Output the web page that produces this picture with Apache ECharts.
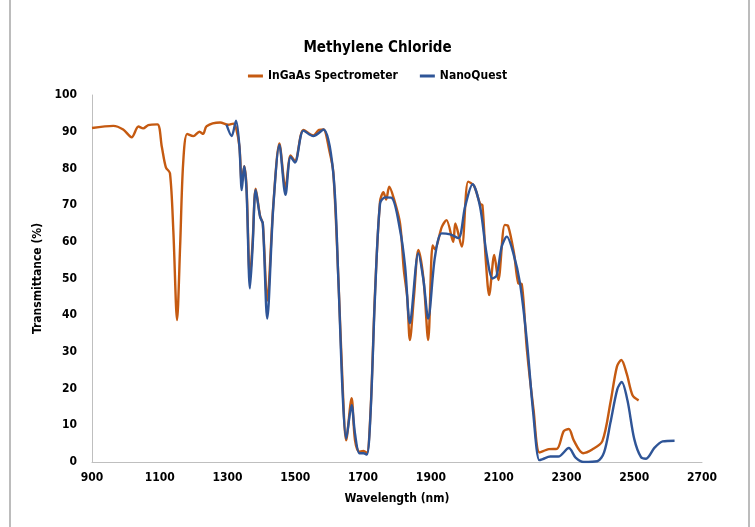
<!DOCTYPE html>
<html><head><meta charset="utf-8">
<script src="https://cdn.jsdelivr.net/npm/echarts@6/dist/echarts.min.js"></script>
<style>html,body{margin:0;padding:0;background:#fff}#c{width:755px;height:527px}</style>
</head><body><div id="c"></div>
<script>
const title = "Methylene Chloride";
const seriesNames = ["InGaAs Spectrometer", "NanoQuest"];
const xTicks = [900, 1100, 1300, 1500, 1700, 1900, 2100, 2300, 2500, 2700];
const yTicks = [0, 10, 20, 30, 40, 50, 60, 70, 80, 90, 100];

const ingaasWl = [900,963,992,1017,1037,1051,1066,1093,1106,1118,1130,1140,1151,1160,1169,1181,1199,1217,1228,1238,1278,1302,1317,1325,1335,1342,1349,1356,1366,1374,1383,1396,1404,1417,1435,1453,1471,1486,1499,1524,1553,1570,1583,1600,1612,1627,1640,1650,1666,1676,1689,1701,1711,1722,1735,1750,1760,1768,1777,1790,1809,1820,1830,1838,1850,1863,1878,1892,1905,1912,1932,1946,1966,1972,1991,2010,2027,2045,2052,2062,2072,2087,2099,2118,2128,2145,2158,2168,2183,2203,2221,2248,2272,2292,2307,2322,2349,2376,2406,2430,2449,2462,2478,2495,2513];
const ingaasT = [91,91.6,90.6,88.5,91.4,90.9,91.8,92,85.9,80.3,78.7,63,38.7,58.7,81.4,89.4,88.8,90,89.4,91.5,92.5,91.9,92.2,91,86,76,80.6,75,50,60,74.5,67,65,44,70,86.8,74.6,83.5,82,90.5,89,90.5,90.6,85,79,50,20,5.9,17.4,6,2.8,3,2.5,14,46,71,73.5,71.5,75,72,65,52.5,45,33.2,45,57.8,50,33.2,59,58,64,65.9,60,65,58.7,76.4,75.3,70.4,70,55,45.5,56.4,49.6,64.6,64.3,57,48.7,48.5,30.9,14.2,2.6,3.5,3.6,8.4,9,5.8,2.4,3.4,5.7,16.3,26,27.8,24,18.2,16.8];

const nanoWl = [1297,1312,1325,1335,1342,1349,1356,1366,1374,1383,1396,1404,1417,1435,1453,1471,1486,1499,1524,1553,1583,1612,1627,1640,1650,1666,1676,1689,1701,1711,1722,1735,1750,1765,1784,1809,1824,1838,1863,1878,1892,1912,1932,1957,1981,2001,2023,2045,2064,2082,2094,2109,2124,2143,2163,2183,2202,2220,2230,2252,2276,2307,2327,2351,2391,2411,2430,2450,2463,2480,2500,2520,2535,2560,2584,2619];
const nanoT = [91.9,88.8,93,85.9,74.1,80.6,74,47.3,58.7,74.1,66.8,65,39.1,69.6,86.4,72.8,83.2,81.6,90.3,88.8,90.6,78.7,49.6,17.8,6.4,15.5,7.8,2.4,2.4,2,13.3,45,70.5,72.1,72,63.2,53.2,37.8,56.9,49.6,39.1,55.9,62.3,62,61,69.6,75.7,69.6,56.9,50,50.8,58.7,61.4,57,48.7,33.2,13.3,0.5,0.8,1.5,1.5,3.8,1.2,0,0.2,2.6,10.8,19.8,21.8,16.8,6.3,1.3,0.9,3.9,5.6,5.8];

const colors = ['#C55A11', '#2F5597'];
const FONT = "'DejaVu Sans Condensed','Liberation Sans Narrow',sans-serif";

function pairs(xs, ys){ return xs.map((x,i)=>[x, ys[i]]); }

const chart = echarts.init(document.getElementById('c'), null, {renderer:'canvas'});
chart.setOption({
  animation: false,
  backgroundColor: '#fff',
  graphic: [{type:'rect', shape:{x:10, y:-5, width:739, height:540}, style:{fill:'none', stroke:'#a6a6a6', lineWidth:1.5}, silent:true}],
  title: {text: title, left: 'center', top: 36, textStyle:{fontFamily:FONT, fontWeight:'bold', fontSize:15, color:'#000'}},
  legend: {top: 65, left:'center', itemGap: 22, itemWidth: 15, itemHeight: 3, icon: 'rect',
    textStyle:{fontFamily:FONT, fontWeight:'bold', fontSize:12, color:'#000'},
    data: seriesNames},
  grid: {left: 92, right: 53, top: 95, bottom: 65, containLabel:false},
  xAxis: {type:'value', min: xTicks[0], max: xTicks[xTicks.length-1], interval: 200,
    name: 'Wavelength (nm)', nameLocation:'middle', nameGap: 31,
    nameTextStyle:{fontFamily:FONT, fontWeight:'bold', fontSize:12, color:'#000'},
    axisLine:{show:true, lineStyle:{color:'#bfbfbf', width:1}}, axisTick:{show:false}, splitLine:{show:false},
    axisLabel:{fontFamily:FONT, fontWeight:'bold', fontSize:12, color:'#000', margin:10, formatter: v => String(v)}},
  yAxis: {type:'value', min: yTicks[0], max: yTicks[yTicks.length-1], interval: 10,
    name: 'Transmittance (%)', nameLocation:'middle', nameGap: 41, nameRotate: 90,
    nameTextStyle:{fontFamily:FONT, fontWeight:'bold', fontSize:12, color:'#000'},
    axisLine:{show:true, lineStyle:{color:'#bfbfbf', width:1}}, axisTick:{show:false}, splitLine:{show:false},
    axisLabel:{fontFamily:FONT, fontWeight:'bold', fontSize:12, color:'#000', margin:15, formatter: v => String(v)}},
  series: [
    {name: seriesNames[0], type:'line', data: pairs(ingaasWl, ingaasT), smooth:0.3, showSymbol:false, symbol:'none',
     lineStyle:{color:colors[0], width:2.4}, itemStyle:{color:colors[0]}},
    {name: seriesNames[1], type:'line', data: pairs(nanoWl, nanoT), smooth:0.3, showSymbol:false, symbol:'none',
     lineStyle:{color:colors[1], width:2.4}, itemStyle:{color:colors[1]}}
  ]
});
</script></body></html>
